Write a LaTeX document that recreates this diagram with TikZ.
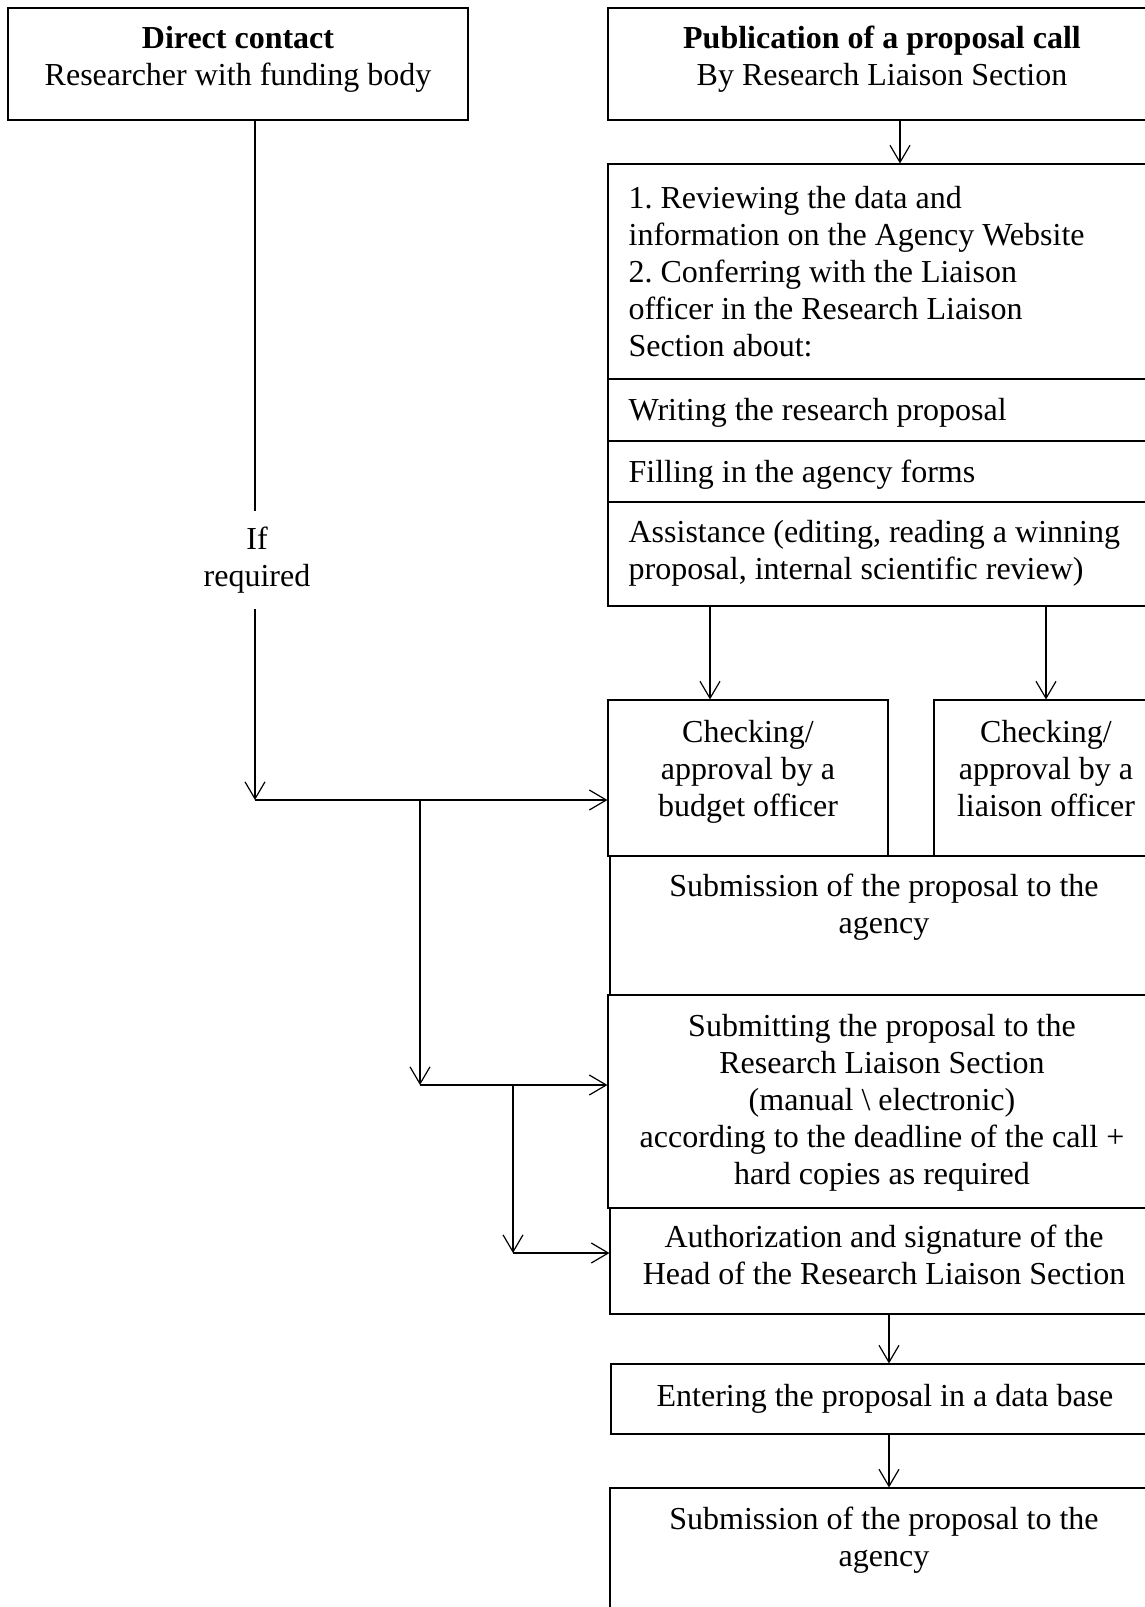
\documentclass[tikz,border=0pt]{standalone}
\usepackage{fontspec}
\setmainfont{Liberation Serif}
\usetikzlibrary{arrows.meta,fit}
\frenchspacing
\begin{document}
\begin{tikzpicture}[
    x=1pt, y=-1pt,
    line width=1.2pt,
    stage/.style={draw, rectangle, inner sep=0pt, line width=1.1pt},
    caption/.style={align=center, inner sep=0pt, font=\fontsize{32}{37}\selectfont},
    listing/.style={align=left, inner sep=0pt, anchor=west, font=\fontsize{32}{37}\selectfont},
    arrowstyle/.style={draw, -{Straight Barb[length=17pt,width=20pt]}}
]
\useasboundingbox (0,0) rectangle (1145,1607);

\node (Direct) [stage, fit={(8,8) (468,120)}] {};
\node (Publication) [stage, fit={(608,8) (1160,120)}] {};
\node (Review) [stage, fit={(608,164) (1160,379)}] {};
\node (Writing) [stage, fit={(608,379) (1160,441)}] {};
\node (Filling) [stage, fit={(608,441) (1160,502)}] {};
\node (Assist) [stage, fit={(608,502) (1160,606)}] {};
\node (Budget) [stage, fit={(608,700) (888,856)}] {};
\node (Liaison) [stage, fit={(934,700) (1160,856)}] {};
\node (Submission) [stage, fit={(610,856) (1160,995)}] {};
\node (Submitting) [stage, fit={(608,995) (1160,1208)}] {};
\node (Authorization) [stage, fit={(610,1208) (1160,1314)}] {};
\node (Entering) [stage, fit={(611,1364) (1160,1434)}] {};
\node (Agency) [stage, fit={(610,1488) (1160,1650)}] {};

\node (DirectText) [caption] at (238,59) {\textbf{Direct contact}\\Researcher with funding body};
\node (PublicationText) [caption] at (882,59) {\textbf{Publication of a proposal call}\\By Research Liaison Section};
\node (ReviewText) [listing] at (628,272) {1. Reviewing the data and\\information on the Agency Website\\2. Conferring with the Liaison\\officer in the Research Liaison\\Section about:};
\node (WritingText) [listing] at (628,413) {Writing the research proposal};
\node (FillingText) [listing] at (628,475) {Filling in the agency forms};
\node (AssistText) [listing] at (628,553) {Assistance (editing, reading a winning\\proposal, internal scientific review)};
\node (BudgetText) [caption] at (748,772) {Checking/\\approval by a\\budget officer};
\node (LiaisonText) [caption] at (1046,769) {Checking/\\approval by a\\liaison officer};
\node (SubmissionText) [caption] at (884,907) {Submission of the proposal to the\\agency};
\node (SubmittingText) [caption] at (882,1103) {Submitting the proposal to the\\Research Liaison Section\\(manual \textbackslash{} electronic)\\according to the deadline of the call +\\hard copies as required};
\node (AuthorizationText) [caption] at (884,1255) {Authorization and signature of the\\Head of the Research Liaison Section};
\node (EnteringText) [caption] at (885,1399) {Entering the proposal in a data base};
\node (AgencyText) [caption] at (884,1540) {Submission of the proposal to the\\agency};
\node (IfRequired) [caption, inner ysep=15pt] at (257,560) {If\\required};

\coordinate (PubDrop) at (900,0);
\coordinate (BudgetDrop) at (710,0);
\coordinate (LiaisonDrop) at (1046,0);
\coordinate (MainDrop) at (889,0);
\coordinate (LeftDrop) at (255,0);
\coordinate (Join1) at (255,800);
\coordinate (Join2) at (420,1085);
\coordinate (Join3) at (513,1253);

\draw[arrowstyle] (Publication.south -| PubDrop) -- (Review.north -| PubDrop);
\draw[arrowstyle] (Assist.south -| BudgetDrop) -- (Budget.north -| BudgetDrop);
\draw[arrowstyle] (Assist.south -| LiaisonDrop) -- (Liaison.north -| LiaisonDrop);
\draw[arrowstyle] (Authorization.south -| MainDrop) -- (Entering.north -| MainDrop);
\draw[arrowstyle] (Entering.south -| MainDrop) -- (Agency.north -| MainDrop);

\draw (Direct.south -| LeftDrop) -- (IfRequired.north -| LeftDrop);
\draw[arrowstyle] (IfRequired.south -| LeftDrop) -- (Join1);
\draw[arrowstyle] (Join1) -- (Join1 -| Budget.west);
\draw[arrowstyle] (Join1 -| Join2) -- (Join2);
\draw[arrowstyle] (Join2) -- (Join2 -| Submitting.west);
\draw[arrowstyle] (Join2 -| Join3) -- (Join3);
\draw[arrowstyle] (Join3) -- (Join3 -| Authorization.west);
\end{tikzpicture}
\end{document}
